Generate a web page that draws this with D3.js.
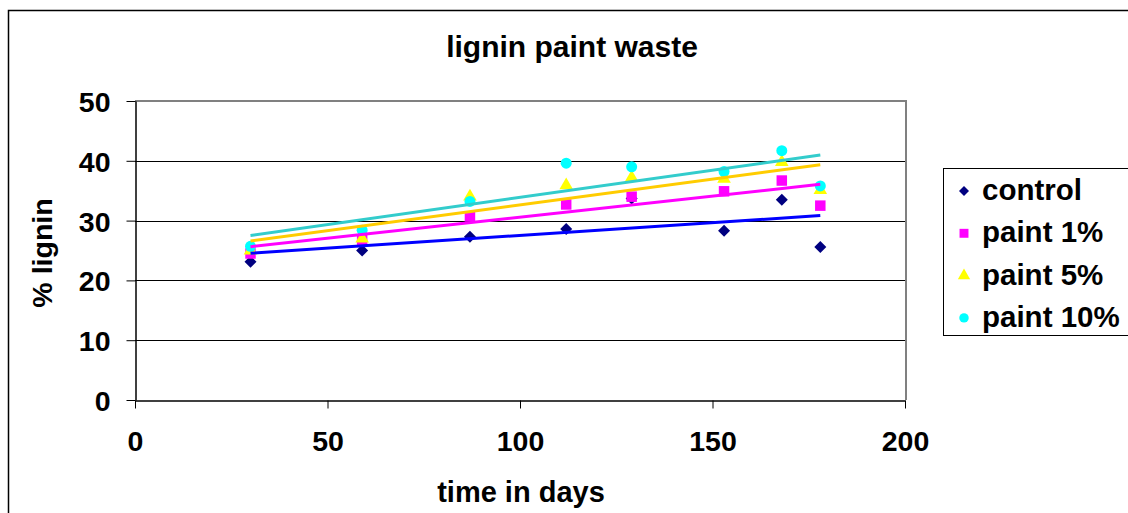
<!DOCTYPE html>
<html>
<head>
<meta charset="utf-8">
<script src="https://cdn.jsdelivr.net/npm/d3@7"></script>
<style>
  html, body { margin: 0; padding: 0; background: #fff; }
  svg { display: block; }
  text { font-family: "Liberation Sans", Arial, Helvetica, sans-serif; font-weight: bold; fill: #000; }
</style>
</head>
<body>
<svg id="chart" width="1128" height="513"></svg>
<script>
// Sampling days and lignin percentages per treatment
const days = [30, 59, 87, 112, 129, 153, 168, 178];
const control = [23.1, 25.0, 27.3, 28.6, 33.7, 28.3, 33.5, 25.6];
const paint1 = [24.5, 26.8, 30.7, 32.7, 34.0, 34.9, 36.7, 32.5];
const paint5 = [25.0, 27.0, 34.0, 35.9, 37.2, 37.0, 39.8, 35.1];
const paint10 = [25.7, 28.4, 33.2, 39.6, 39.0, 38.2, 41.7, 35.8];

const seriesNames = ["control", "paint 1%", "paint 5%", "paint 10%"];
const xTicks = [0, 50, 100, 150, 200];
const yTicks = [0, 10, 20, 30, 40, 50];

// A square turned 45° — an even-sided diamond
const symbolRhombus = {
  draw(context, size) {
    const r = Math.sqrt(size / 2);
    context.moveTo(0, -r);
    context.lineTo(r, 0);
    context.lineTo(0, r);
    context.lineTo(-r, 0);
    context.closePath();
  }
};

const series = [
  { name: seriesNames[0], values: control, symbol: symbolRhombus, fill: "#000080", trend: "#0000FF", size: 72, legendSize: 50 },
  { name: seriesNames[1], values: paint1, symbol: d3.symbolSquare, fill: "#FF00FF", trend: "#FF00FF", size: 110, legendSize: 80 },
  { name: seriesNames[2], values: paint5, symbol: d3.symbolTriangle, fill: "#FFFF00", trend: "#FFCC00", size: 80, legendSize: 65 },
  { name: seriesNames[3], values: paint10, symbol: d3.symbolCircle, fill: "#00FFFF", trend: "#33CCCC", size: 95, legendSize: 70 }
];

const svg = d3.select("#chart");

// Outer chart frame
svg.append("rect")
  .attr("x", 8.5).attr("y", 10.5)
  .attr("width", 1130).attr("height", 510)
  .attr("fill", "#fff").attr("stroke", "#000").attr("stroke-width", 1.5);

const plot = { left: 135, right: 906, top: 101, bottom: 400 };

const x = d3.scaleLinear().domain([0, 200]).range([plot.left, plot.right - 1]);
const y = d3.scaleLinear().domain([0, 50]).range([plot.bottom, plot.top]);

// Horizontal gridlines
svg.append("g")
  .selectAll("line")
  .data(yTicks.filter(v => v > 0 && v < 50))
  .join("line")
  .attr("x1", plot.left).attr("x2", plot.right)
  .attr("y1", d => Math.round(y(d)) + 0.5).attr("y2", d => Math.round(y(d)) + 0.5)
  .attr("stroke", "#000").attr("stroke-width", 1);

// Plot area border (top and right)
svg.append("path")
  .attr("d", `M${plot.left},${plot.top} H${plot.right} V${plot.bottom}`)
  .attr("fill", "none").attr("stroke", "#808080").attr("stroke-width", 2);

// Axes
const xAxis = d3.axisBottom(x).tickValues(xTicks).tickSize(8).tickPadding(22).tickSizeOuter(0);
const yAxis = d3.axisLeft(y).tickValues(yTicks).tickSize(9).tickPadding(16).tickSizeOuter(0);

const gx = svg.append("g").attr("transform", `translate(0,${plot.bottom + 0.5})`).call(xAxis);
const gy = svg.append("g").attr("transform", `translate(${plot.left + 0.5},0)`).call(yAxis);

[gx, gy].forEach(g => {
  g.select(".domain").attr("stroke", "#000").attr("stroke-width", 1.5);
  g.selectAll(".tick line").attr("stroke", "#000").attr("stroke-width", 1);
  g.selectAll(".tick text")
    .attr("font-family", "'Liberation Sans', Arial, sans-serif")
    .attr("font-weight", "bold")
    .attr("font-size", 28.5)
    .attr("fill", "#000");
});
gy.selectAll(".tick text").attr("dy", "0.37em");
gx.selectAll(".tick text").attr("dy", "0.71em");

// Markers, one layer per series
series.forEach(s => {
  svg.append("g")
    .selectAll("path")
    .data(s.values.map((v, i) => [days[i], v]))
    .join("path")
    .attr("transform", d => `translate(${x(d[0])},${y(d[1])})`)
    .attr("d", d3.symbol().type(s.symbol).size(s.size))
    .attr("fill", s.fill);
});

// Least-squares trend line for each series
function linearFit(xs, ys) {
  const mx = d3.mean(xs), my = d3.mean(ys);
  let num = 0, den = 0;
  xs.forEach((xv, i) => { num += (xv - mx) * (ys[i] - my); den += (xv - mx) * (xv - mx); });
  const slope = num / den;
  return xv => my + slope * (xv - mx);
}

const line = d3.line().x(d => x(d[0])).y(d => y(d[1]));
const xExtent = d3.extent(days);
series.forEach(s => {
  const f = linearFit(days, s.values);
  svg.append("path")
    .datum(xExtent.map(d => [d, f(d)]))
    .attr("d", line)
    .attr("fill", "none")
    .attr("stroke", s.trend)
    .attr("stroke-width", 3);
});

// Titles
svg.append("text")
  .attr("x", 572).attr("y", 57)
  .attr("text-anchor", "middle")
  .attr("font-size", 30)
  .text("lignin paint waste");

svg.append("text")
  .attr("x", 521).attr("y", 502)
  .attr("text-anchor", "middle")
  .attr("font-size", 29)
  .text("time in days");

svg.append("text")
  .attr("transform", "translate(52,253) rotate(-90)")
  .attr("text-anchor", "middle")
  .attr("font-size", 28.5)
  .text("% lignin");

// Legend
const legend = svg.append("g");
legend.append("rect")
  .attr("x", 943.5).attr("y", 168.5)
  .attr("width", 200).attr("height", 167)
  .attr("fill", "#fff").attr("stroke", "#000").attr("stroke-width", 1);

series.forEach((s, i) => {
  const base = 200 + i * 42.3;
  legend.append("path")
    .attr("transform", `translate(964,${base - 9})`)
    .attr("d", d3.symbol().type(s.symbol).size(s.legendSize))
    .attr("fill", s.fill);
  legend.append("text")
    .attr("x", 982).attr("y", base)
    .attr("font-size", 29.5)
    .text(s.name);
});
</script>
</body>
</html>
